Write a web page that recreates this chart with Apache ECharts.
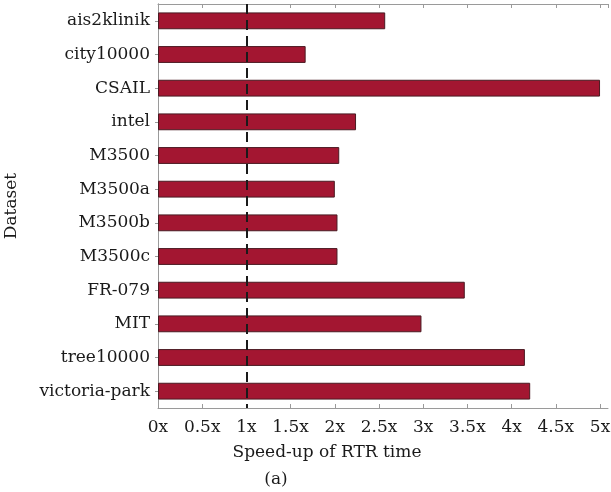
<!DOCTYPE html>
<html>
<head>
<meta charset="utf-8">
<script src="https://cdn.jsdelivr.net/npm/echarts@6/dist/echarts.min.js"></script>
<style>html,body{margin:0;padding:0;background:#fff}#c{width:611px;height:492px}</style>
</head>
<body>
<div id="c"></div>
<script>
const datasets = ['ais2klinik','city10000','CSAIL','intel','M3500','M3500a','M3500b','M3500c','FR-079','MIT','tree10000','victoria-park'];
const speedup = [2.57, 1.67, 5.0, 2.24, 2.05, 2.0, 2.03, 2.03, 3.47, 2.98, 4.15, 4.21];
const xTicks = [0, 0.5, 1, 1.5, 2, 2.5, 3, 3.5, 4, 4.5, 5];
const baseline = 1;

const FONT = "DejaVu Serif";
const FS = 17;
const axisGray = '#9a9a9a';
const chart = echarts.init(document.getElementById('c'), null, {renderer: 'canvas'});
const fmt = v => {
  const hit = xTicks.find(t => Math.abs(t - v) < 1e-6);
  return hit === undefined ? '' : hit + 'x';
};
chart.setOption({
  animation: false,
  grid: {left: 158, right: 3, top: 4, bottom: 84, containLabel: false, outerBoundsMode: 'none'},
  xAxis: [{
    type: 'value', min: 0, max: 5.09, interval: 0.5, position: 'bottom',
    axisLine: {show: true, lineStyle: {color: axisGray, width: 1}},
    axisTick: {show: true, inside: true, length: 4, lineStyle: {color: axisGray}},
    axisLabel: {formatter: fmt, color: '#1a1a1a', fontFamily: FONT, fontSize: FS, margin: 11, showMaxLabel: false},
    splitLine: {show: false}
  }, {
    type: 'value', min: 0, max: 5.09, interval: 0.5, position: 'top',
    axisLine: {show: true, lineStyle: {color: axisGray, width: 1}},
    axisTick: {show: true, inside: true, length: 4, lineStyle: {color: axisGray}},
    axisLabel: {show: false}, splitLine: {show: false}
  }],
  yAxis: [{
    type: 'category', data: datasets, inverse: true, position: 'left',
    name: 'Dataset', nameLocation: 'middle', nameGap: 138, nameRotate: 90,
    nameTextStyle: {fontFamily: FONT, fontSize: FS, color: '#1a1a1a'},
    axisLine: {show: true, lineStyle: {color: axisGray, width: 1}},
    axisTick: {show: true, inside: true, length: 3, alignWithLabel: true, lineStyle: {color: axisGray}},
    axisLabel: {color: '#1a1a1a', fontFamily: FONT, fontSize: FS, margin: 8},
    splitLine: {show: false}
  }, {
    type: 'category', data: datasets, inverse: true, position: 'right',
    axisLine: {show: true, lineStyle: {color: axisGray, width: 1}},
    axisTick: {show: true, inside: true, length: 3, alignWithLabel: true, lineStyle: {color: axisGray}},
    axisLabel: {show: false}, splitLine: {show: false}
  }],
  series: [{
    type: 'bar', data: speedup, barWidth: '50%',
    itemStyle: {color: '#a31631', borderColor: '#4a1a22', borderWidth: 1},
    markLine: {
      silent: true, symbol: 'none', z: 10,
      label: {show: false},
      lineStyle: {color: '#1a1a1a', width: 2, type: [10, 6]},
      data: [{xAxis: baseline}]
    }
  }],
  graphic: [
    {type: 'text', x: 327, y: 453, style: {text: 'Speed-up of RTR time', fontFamily: FONT, fontSize: FS, fill: '#1a1a1a', align: 'center', verticalAlign: 'middle'}},
    {type: 'text', x: 276, y: 480, style: {text: '(a)', fontFamily: FONT, fontSize: FS, fill: '#1a1a1a', align: 'center', verticalAlign: 'middle'}}
  ]
});
</script>
</body>
</html>
